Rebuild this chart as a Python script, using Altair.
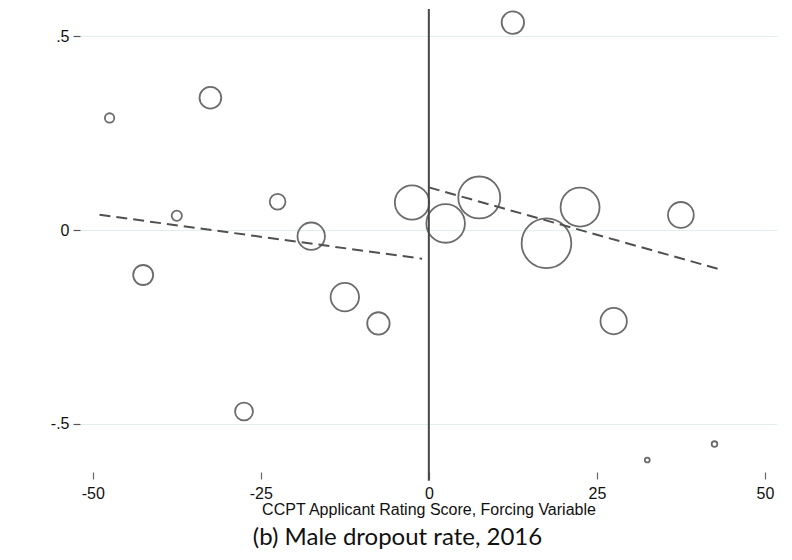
import altair as alt
import pandas as pd

# Binned means of male dropout rate (2016) by CCPT applicant rating score
score = [-47.5, -42.5, -37.5, -32.5, -27.5, -22.5, -17.5, -12.5, -7.5, -2.5,
         2.5, 7.5, 12.5, 17.5, 22.5, 27.5, 32.5, 37.5, 42.5]
dropout = [0.289, -0.116, 0.037, 0.341, -0.468, 0.073, -0.016, -0.173, -0.241, 0.071,
           0.017, 0.084, 0.535, -0.034, 0.059, -0.235, -0.593, 0.039, -0.552]
count = [11, 50, 13, 59, 40, 31, 94, 101, 63, 148,
         186, 220, 63, 308, 190, 87, 3, 83, 4]

# Linear fits on each side of the cutoff
fit_side = ["left", "left", "right", "right"]
fit_x = [-49.0, -1.0, 0.0, 43.0]
fit_y = [0.0394, -0.074, 0.110, -0.100]

cutoff = [0]

x_ticks = [-50, -25, 0, 25, 50]
y_ticks = [-0.5, 0, 0.5]

pts = pd.DataFrame({"score": score, "dropout": dropout, "n": count})
fits = pd.DataFrame({"side": fit_side, "x": fit_x, "y": fit_y})
cut = pd.DataFrame({"c": cutoff})

AX_FONT = "Liberation Sans"
x_scale = alt.Scale(domain=[-51.9, 51.8], nice=False, zero=False)
y_scale = alt.Scale(domain=[-0.624, 0.570], nice=False, zero=False)

x_axis = alt.Axis(values=x_ticks, title="CCPT Applicant Rating Score, Forcing Variable",
                  grid=False, domain=False, tickSize=7, tickColor="#666", tickWidth=1.2,
                  labelFont=AX_FONT, labelFontSize=16, labelColor="#111", labelPadding=6,
                  labelExpr="'' + datum.value",
                  titleFont=AX_FONT, titleFontSize=16, titleFontWeight="normal",
                  titleColor="#111", titlePadding=0, labelFlush=False)
y_axis = alt.Axis(values=y_ticks, title=None, grid=True, gridColor="#e4eef0", gridWidth=1.2,
                  domain=False, tickSize=7, tickColor="#555", tickWidth=1.2,
                  labelFont=AX_FONT, labelFontSize=16, labelColor="#111", labelPadding=4,
                  labelExpr="datum.value == 0.5 ? '.5' : (datum.value == -0.5 ? '-.5' : '0')")

points = alt.Chart(pts).mark_point(shape="circle", filled=False, color="#6c6c6c",
                                   strokeWidth=1.8, opacity=1).encode(
    x=alt.X("score:Q", scale=x_scale, axis=x_axis),
    y=alt.Y("dropout:Q", scale=y_scale, axis=y_axis),
    size=alt.Size("n:Q", scale=alt.Scale(domain=[0, 308], range=[0, 2464]), legend=None),
)

lines = alt.Chart(fits).mark_line(color="#505050", strokeWidth=2, strokeDash=[11, 6]).encode(
    x=alt.X("x:Q", scale=x_scale),
    y=alt.Y("y:Q", scale=y_scale),
    detail="side:N",
)

rule = alt.Chart(cut).mark_rule(color="#474747", strokeWidth=2).encode(
    x=alt.X("c:Q", scale=x_scale),
    y=alt.value(0),
    y2=alt.value(471.7),
)

chart = alt.layer(points, lines, rule).properties(
    width=697,
    height=463,
    background="white",
    autosize=alt.AutoSizeParams(type="none"),
    padding={"left": 72, "top": 1, "right": 7, "bottom": 80},
    title=alt.TitleParams(text="(b) Male dropout rate, 2016", orient="bottom", anchor="middle",
                          font="Lato", fontSize=24, fontWeight="normal", color="#111",
                          offset=9, dx=-31),
).configure_view(stroke=None)

chart.save("out.html", embed_options={"renderer": "svg", "actions": False})
